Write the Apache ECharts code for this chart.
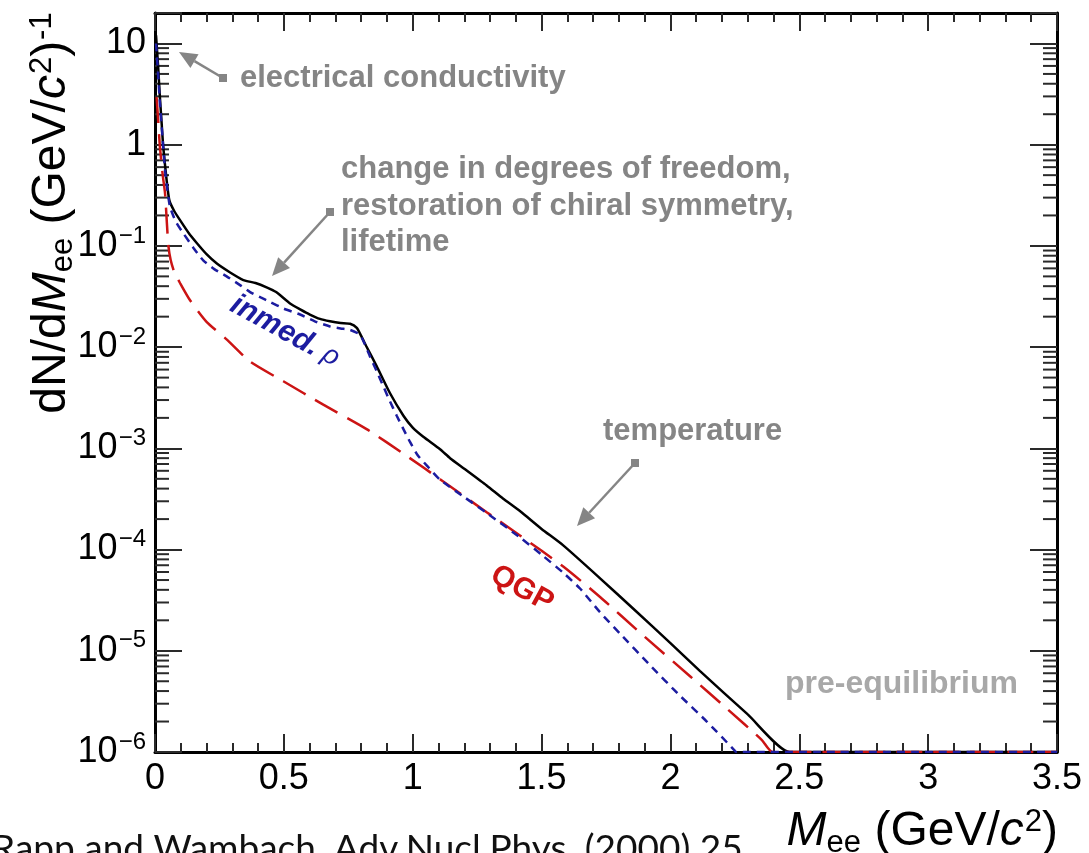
<!DOCTYPE html>
<html><head><meta charset="utf-8">
<script src="https://cdn.jsdelivr.net/npm/echarts@6/dist/echarts.min.js"></script>
<style>html,body{margin:0;padding:0;background:#fff}#c{width:1089px;height:853px}</style>
</head><body><div id="c"></div>
<script>
// ---- data ----
const M_total = [0.004, 0.012, 0.019, 0.026, 0.032, 0.045, 0.056, 0.075, 0.097, 0.13, 0.162, 0.2, 0.24, 0.29, 0.343, 0.39, 0.433, 0.47, 0.524, 0.565, 0.601, 0.64, 0.679, 0.72, 0.757, 0.783, 0.80, 0.82, 0.86, 0.912, 0.964, 1.0, 1.041, 1.106, 1.145, 1.2, 1.287, 1.35, 1.416, 1.5, 1.584, 1.727, 1.856, 2.0, 2.115, 2.3, 2.462, 2.6, 3.0, 3.5];
const dN_total = [12, 6, 2.95, 1.6, 0.95, 0.45, 0.28, 0.22, 0.18, 0.135, 0.107, 0.083, 0.067, 0.055, 0.046, 0.043, 0.039, 0.035, 0.027, 0.0235, 0.021, 0.019, 0.018, 0.0173, 0.017, 0.0155, 0.0129, 0.0102, 0.0065, 0.0035, 0.0021, 0.0016, 0.0013, 0.00098, 0.00080, 0.00063, 0.00043, 0.00032, 0.00024, 0.00016, 0.00011, 5.2e-5, 2.6e-5, 1.19e-5, 6.3e-6, 2.35e-6, 1e-6, 1e-6, 1e-6, 1e-6];

const M_rho = [0.004, 0.012, 0.019, 0.03, 0.039, 0.048, 0.058, 0.08, 0.11, 0.15, 0.187, 0.23, 0.278, 0.33, 0.369, 0.41, 0.446, 0.5, 0.563, 0.62, 0.679, 0.72, 0.757, 0.795, 0.812, 0.834, 0.86, 0.886, 0.912, 0.938, 0.964, 0.99, 1.02, 1.054, 1.106, 1.2, 1.287, 1.416, 1.5, 1.584, 1.65, 1.727, 1.804, 1.921, 2.037, 2.141, 2.244, 2.255, 2.6, 3.0, 3.5];
const dN_rho = [10, 5.0, 2.6, 1.1, 0.56, 0.36, 0.245, 0.175, 0.133, 0.095, 0.072, 0.059, 0.05, 0.041, 0.035, 0.031, 0.028, 0.024, 0.021, 0.018, 0.016, 0.0153, 0.0148, 0.0133, 0.011, 0.0081, 0.0058, 0.0041, 0.0029, 0.0021, 0.00155, 0.00115, 0.00085, 0.00068, 0.00049, 0.00033, 0.00023, 0.000132, 8.9e-5, 5.9e-5, 4.1e-5, 2.4e-5, 1.48e-5, 7.2e-6, 3.6e-6, 2.0e-6, 1.07e-6, 1e-6, 1e-6, 1e-6, 1e-6];

const M_qgp = [0.006, 0.012, 0.019, 0.03, 0.039, 0.046, 0.052, 0.061, 0.075, 0.097, 0.136, 0.2, 0.28, 0.369, 0.498, 0.653, 0.821, 0.977, 1.106, 1.287, 1.416, 1.584, 1.727, 1.882, 2.076, 2.218, 2.354, 2.396, 2.6, 3.0, 3.5];
const dN_qgp = [2.95, 1.8, 0.95, 0.5, 0.33, 0.17, 0.10, 0.072, 0.055, 0.043, 0.029, 0.0178, 0.0118, 0.0072, 0.0046, 0.0027, 0.00155, 0.00084, 0.000495, 0.000234, 0.000138, 6.8e-5, 3.4e-5, 1.51e-5, 5.6e-6, 2.7e-6, 1.32e-6, 1e-6, 1e-6, 1e-6, 1e-6];

const xTickLabels = ['0', '0.5', '1', '1.5', '2', '2.5', '3', '3.5'];
const yMajorExp = [-6, -5, -4, -3, -2, -1, 0, 1];
const yMinorMult = [2, 3, 4, 5, 6, 7, 8, 9];

// ---- build ----
const FONT = "'Liberation Sans', Arial, Helvetica, sans-serif";
const zip = (a, b) => a.map((v, i) => [v, b[i]]);
const minorVals = [];
yMajorExp.forEach(e => yMinorMult.forEach(m => { const v = m * Math.pow(10, e); if (v < 20) minorVals.push([0, v]); }));

const chart = echarts.init(document.getElementById('c'));
const tickStyle = { color: '#2a2a2a', width: 2 };
const frame = { show: true, onZero: false, lineStyle: { color: '#000', width: 3 } };

function yLabel(v) {
  const k = Math.round(Math.log10(v));
  if (yMajorExp.indexOf(k) < 0) return '';
  if (Math.abs(v - Math.pow(10, k)) > 1e-6 * Math.pow(10, k)) return '';
  if (k === 1) return '{b|10}';
  if (k === 0) return '{b|1}';
  return '{b|10}{sup|\u2212' + (-k) + '}';
}

const GRAY = '#858585';
function arrow(x1, y1, x2, y2) {
  const dx = x2 - x1, dy = y2 - y1, L = Math.hypot(dx, dy);
  const ux = dx / L, uy = dy / L, px = -uy, py = ux;
  const hl = 18, hw = 8;
  const bx = x2 - ux * hl, by = y2 - uy * hl;
  return [
    { type: 'line', shape: { x1: x1, y1: y1, x2: bx, y2: by }, style: { stroke: GRAY, lineWidth: 2.5 }, z: 100 },
    { type: 'rect', shape: { x: x1 - 4, y: y1 - 4, width: 8, height: 8 }, style: { fill: GRAY }, z: 100 },
    { type: 'polygon', shape: { points: [[x2, y2], [bx + px * hw, by + py * hw], [bx - px * hw, by - py * hw]] }, style: { fill: GRAY }, z: 100 }
  ];
}

const TS = 48;
const titleRich = {
  n: { fontSize: TS, fontFamily: FONT, color: '#000', verticalAlign: 'middle' },
  i: { fontSize: TS, fontFamily: FONT, fontStyle: 'italic', color: '#000', verticalAlign: 'middle' },
  sub: { fontSize: 31, fontFamily: FONT, color: '#000', padding: [23, 0, 0, 0], verticalAlign: 'middle' },
  sup: { fontSize: 31, fontFamily: FONT, color: '#000', padding: [0, 0, 19, 1], verticalAlign: 'middle' }
};

const annot = (text, x, y, color, size, extra) => Object.assign({
  type: 'text', x: x, y: y, z: 100,
  style: Object.assign({ text: text, fill: color, font: 'bold ' + size + 'px ' + FONT, align: 'left', verticalAlign: 'middle' }, extra || {})
});

const lineCommon = { type: 'line', showSymbol: false, symbol: 'none', smooth: 0.2 };

chart.setOption({
  animation: false,
  backgroundColor: '#fff',
  grid: { left: 155, top: 13, width: 902, height: 739, show: false },
  xAxis: [
    { type: 'value', min: 0, max: 3.5, interval: 0.5, position: 'bottom',
      axisLine: frame, axisTick: { show: true, inside: true, length: 18, lineStyle: tickStyle },
      minorTick: { show: true, splitNumber: 5, length: 9, lineStyle: tickStyle },
      axisLabel: { show: true, margin: 9, fontSize: 36, color: '#000', fontFamily: FONT,
        formatter: v => xTickLabels[Math.round(v / 0.5)] || '' },
      splitLine: { show: false }, minorSplitLine: { show: false } },
    { type: 'value', min: 0, max: 3.5, interval: 0.5, position: 'top',
      axisLine: frame, axisTick: { show: true, inside: true, length: 18, lineStyle: tickStyle },
      minorTick: { show: true, splitNumber: 5, length: 9, lineStyle: tickStyle },
      axisLabel: { show: false }, splitLine: { show: false } }
  ],
  yAxis: [
    { type: 'log', logBase: 10, min: 1e-6, max: 20, position: 'left',
      axisLine: frame, axisTick: { show: true, inside: true, length: 27, lineStyle: tickStyle },
      axisLabel: { show: true, margin: 9, color: '#000', fontSize: 36, fontFamily: FONT, formatter: yLabel,
        rich: {
          b: { fontSize: 36, fontFamily: FONT, color: '#000', verticalAlign: 'middle' },
          sup: { fontSize: 24, fontFamily: FONT, color: '#000', padding: [0, 0, 20, 1], verticalAlign: 'middle' }
        } },
      splitLine: { show: false } },
    { type: 'log', logBase: 10, min: 1e-6, max: 20, position: 'right',
      axisLine: frame, axisTick: { show: true, inside: true, length: 27, lineStyle: tickStyle },
      axisLabel: { show: false }, splitLine: { show: false } }
  ],
  series: [
    { type: 'custom', silent: true, xAxisIndex: 0, yAxisIndex: 0, z: 1, data: minorVals,
      renderItem: (params, api) => {
        const v = api.value(1);
        const p0 = api.coord([0, v]), p1 = api.coord([3.5, v]);
        return { type: 'group', children: [
          { type: 'line', shape: { x1: p0[0], y1: p0[1], x2: p0[0] + 14, y2: p0[1] }, style: { stroke: '#2a2a2a', lineWidth: 2 } },
          { type: 'line', shape: { x1: p1[0] - 14, y1: p1[1], x2: p1[0], y2: p1[1] }, style: { stroke: '#2a2a2a', lineWidth: 2 } }
        ] };
      } },
    Object.assign({ name: 'total', data: zip(M_total, dN_total), z: 3,
      lineStyle: { color: '#000', width: 2.5 } }, lineCommon),
    Object.assign({ name: 'QGP', data: zip(M_qgp, dN_qgp), z: 4,
      lineStyle: { color: '#cc1414', width: 2.5, type: [26, 11] } }, lineCommon),
    Object.assign({ name: 'inmed. rho', data: zip(M_rho, dN_rho), z: 5,
      lineStyle: { color: '#1c1ca0', width: 2.5, type: [8, 6] } }, lineCommon)
  ],
  graphic: [
    { type: 'text', x: 52, y: 213, rotation: Math.PI / 2, z: 100,
      style: { text: '{n|dN/d}{i|M}{sub|ee}{n| (GeV/}{i|c}{sup|2}{n|)}{sup|-1}', rich: titleRich, align: 'center', verticalAlign: 'middle' } },
    { type: 'text', x: 1058, y: 832, z: 100,
      style: { text: '{i|M}{sub|ee}{n| (GeV/}{i|c}{sup|2}{n|)}', rich: titleRich, align: 'right', verticalAlign: 'middle' } },
    { type: 'text', x: -8, y: 831, z: 100,
      style: { text: 'Rapp and Wambach, Adv.Nucl.Phys. (2000) 25', fill: '#111', font: '37px Lato, sans-serif', align: 'left', verticalAlign: 'top' } },
    annot('electrical conductivity', 240, 78, GRAY, 31),
    annot('change in degrees of freedom,\nrestoration of chiral symmetry,\nlifetime', 341, 206, GRAY, 31, { lineHeight: 36.5 }),
    annot('temperature', 603, 431, GRAY, 31),
    annot('pre-equilibrium', 785, 684, '#a8a8a8', 32),
    { type: 'text', x: 275, y: 326, rotation: -0.5, z: 100,
      style: { text: 'inmed.', fill: '#1c1ca0', font: 'italic bold 30px ' + FONT, align: 'center', verticalAlign: 'middle' } },
    { type: 'text', x: 331, y: 356, rotation: -0.5, z: 100,
      style: { text: '\u03c1', fill: '#1c1ca0', font: 'italic 27px ' + FONT, align: 'center', verticalAlign: 'middle' } },
    { type: 'text', x: 522, y: 589, rotation: -0.5, z: 100,
      style: { text: 'QGP', fill: '#cc1414', font: 'bold 30px ' + FONT, align: 'center', verticalAlign: 'middle' } }
  ].concat(arrow(223, 78, 179, 52), arrow(330, 212, 272, 276), arrow(635, 463, 577, 526))
});
</script>
</body></html>
